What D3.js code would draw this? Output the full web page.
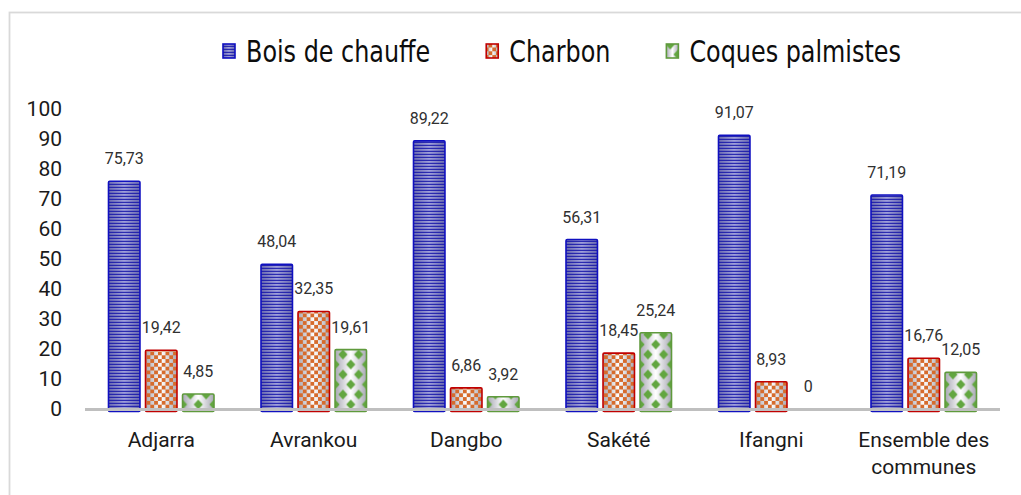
<!DOCTYPE html>
<html>
  <head>
    <meta charset="utf-8">
    <title>Combustibles par commune</title>
    <script type="text/javascript" src="https://cdn.jsdelivr.net/npm/d3@7"></script>
    <style>
      body { margin: 0; background: #fff; }
      svg { display: block; }
    </style>
  </head>
  <body>
    <script type="text/javascript">
     let communes = ["Adjarra", "Avrankou", "Dangbo", "Sakété", "Ifangni", "Ensemble des communes"];
     let series = ["Bois de chauffe", "Charbon", "Coques palmistes"];
     let boisValues = [75.73, 48.04, 89.22, 56.31, 91.07, 71.19];
     let charbonValues = [19.42, 32.35, 6.86, 18.45, 8.93, 16.76];
     let coquesValues = [4.85, 19.61, 3.92, 25.24, 0, 12.05];
     let yTicks = [0, 10, 20, 30, 40, 50, 60, 70, 80, 90, 100];

     let valuesBySeries = [boisValues, charbonValues, coquesValues];

     // canvas
     let w = 1021;
     let h = 495;
     let margin = {top: 108.5, right: 21, bottom: 86.5, left: 85};

     let svg = d3.select("body").append("svg")
		 .attr("width", w)
		 .attr("height", h);

     let font = "Roboto, 'Liberation Sans', Arial, sans-serif";
     let legendFont = "'Liberation Sans Narrow', 'DejaVu Sans Condensed', Arial, sans-serif";

     // chart border (only left and top show inside the window)
     svg.append("rect")
	.attr("x", 9.5)
	.attr("y", 12.5)
	.attr("width", 1100)
	.attr("height", 600)
	.attr("fill", "none")
	.attr("stroke", "#d9d9d9")
	.attr("stroke-width", 1.8);

     // scales
     let x0 = d3.scaleBand()
		.domain(communes)
		.range([margin.left, w - margin.right]);
     let x1 = d3.scaleBand()
		.domain(series)
		.range([23.5, x0.bandwidth() - 23.5])
		.paddingInner(0.15);
     let yScale = d3.scaleLinear()
		    .domain([0, 100])
		    .range([h - margin.bottom, margin.top]);

     let strokeColors = ["#1010c0", "#c00000", "#5f9a3c"];

     let defs = svg.append("defs");

     // grey to white to grey, across each bar
     let grad = defs.append("linearGradient")
		    .attr("id", "shade")
		    .attr("x1", "0").attr("x2", "1")
		    .attr("y1", "0").attr("y2", "0");
     grad.append("stop").attr("offset", "0").attr("stop-color", "#a8a8b4");
     grad.append("stop").attr("offset", "0.5").attr("stop-color", "#ffffff");
     grad.append("stop").attr("offset", "1").attr("stop-color", "#a8a8b4");

     // build the list of bars
     let bars = [];
     communes.forEach((c, i) => {
       series.forEach((s, j) => {
	 bars.push({commune: c, serie: s, k: j, value: valuesBySeries[j][i], id: "p" + i + "_" + j});
       });
     });

     // one pattern per bar so the motif lines up with each bar's edges
     bars.forEach((d) => {
       let bx = x0(d.commune) + x1(d.serie);
       let bw = x1.bandwidth();
       let base = yScale(0);
       if (d.k === 0) {
	 let p = defs.append("pattern").attr("id", d.id)
		     .attr("patternUnits", "userSpaceOnUse")
		     .attr("x", bx).attr("y", base)
		     .attr("width", bw).attr("height", 3);
	 p.append("rect").attr("width", bw).attr("height", 1.8).attr("fill", "#1414a8");
       } else if (d.k === 1) {
	 let p = defs.append("pattern").attr("id", d.id)
		     .attr("patternUnits", "userSpaceOnUse")
		     .attr("x", bx + 1).attr("y", base)
		     .attr("width", 7.6).attr("height", 7.6);
	 p.append("rect").attr("width", 3.8).attr("height", 3.8).attr("fill", "#d66b2c");
	 p.append("rect").attr("x", 3.8).attr("y", 3.8).attr("width", 3.8).attr("height", 3.8).attr("fill", "#d66b2c");
       } else {
	 let pw = bw / 2;
	 let ph = 20;
	 let p = defs.append("pattern").attr("id", d.id)
		     .attr("patternUnits", "userSpaceOnUse")
		     .attr("x", bx).attr("y", base - 4)
		     .attr("width", pw).attr("height", ph);
	 let dw = 4.6, dh = 5;
	 [[0, 0], [pw, 0], [0, ph], [pw, ph], [pw / 2, ph / 2]].forEach((c) => {
	   p.append("polygon")
	    .attr("points", [[c[0], c[1] - dh], [c[0] + dw, c[1]], [c[0], c[1] + dh], [c[0] - dw, c[1]]].join(" "))
	    .attr("fill", "#62a640");
	 });
       }
     });

     let barTop = (d) => yScale(d.value);
     let barHeight = (d) => d.value > 0 ? yScale(0) - yScale(d.value) + 3 : 0;
     let barX = (d) => x0(d.commune) + x1(d.serie);

     let gBars = svg.append("g");
     let shown = bars.filter((d) => d.value > 0);

     gBars.selectAll("rect.shade")
	  .data(shown)
	  .enter()
	  .append("rect")
	  .attr("class", "shade")
	  .attr("x", barX)
	  .attr("y", barTop)
	  .attr("width", x1.bandwidth())
	  .attr("height", barHeight)
	  .attr("fill", "url(#shade)");

     gBars.selectAll("rect.motif")
	  .data(shown)
	  .enter()
	  .append("rect")
	  .attr("class", "motif")
	  .attr("x", barX)
	  .attr("y", barTop)
	  .attr("width", x1.bandwidth())
	  .attr("height", barHeight)
	  .attr("rx", 1.2)
	  .attr("fill", (d) => "url(#" + d.id + ")")
	  .attr("stroke", (d) => strokeColors[d.k])
	  .attr("stroke-width", 1.6);

     // horizontal axis line
     svg.append("line")
	.attr("x1", margin.left)
	.attr("x2", w - margin.right)
	.attr("y1", yScale(0) + 1)
	.attr("y2", yScale(0) + 1)
	.attr("stroke", "#bfbfbf")
	.attr("stroke-width", 3);

     // value labels
     svg.selectAll("text.val")
	.data(bars)
	.enter()
	.append("text")
	.attr("class", "val")
	.attr("x", (d) => barX(d) + x1.bandwidth() / 2)
	.attr("y", (d) => yScale(d.value) - 17)
	.attr("text-anchor", "middle")
	.attr("font-family", font)
	.attr("font-size", 16)
	.attr("fill", "#303030")
	.text((d) => d3.format(".2f")(d.value).replace(".", ",").replace(/^0,00$/, "0"));

     // y axis
     let yAxis = d3.axisLeft()
		   .scale(yScale)
		   .tickValues(yTicks)
		   .tickSize(0)
		   .tickPadding(0);
     let gy = svg.append("g")
		 .attr("transform", "translate(62, 0)")
		 .call(yAxis);
     gy.select(".domain").remove();
     gy.selectAll("text")
       .attr("font-family", font)
       .attr("font-size", 21)
       .attr("fill", "#1a1a1a");

     // category labels, wrapped like the original
     let catLines = {"Ensemble des communes": ["Ensemble des", "communes"]};
     let gx = svg.append("g");
     communes.forEach((c) => {
       let lines = catLines[c] || [c];
       let t = gx.append("text")
		 .attr("text-anchor", "middle")
		 .attr("font-family", font)
		 .attr("font-size", 21)
		 .attr("fill", "#1a1a1a");
       lines.forEach((l, i) => {
	 t.append("tspan")
	  .attr("x", x0(c) + x0.bandwidth() / 2)
	  .attr("y", 447 + i * 27)
	  .text(l);
       });
     });

     // legend -- the original font is narrow, so squeeze the text horizontally
     let squeeze = 0.885;
     let lx = 222;
     series.forEach((s, j) => {
       let g = svg.append("g");
       g.append("rect")
	.attr("x", lx + 1)
	.attr("y", 44)
	.attr("width", 12)
	.attr("height", 14)
	.attr("fill", "url(#shade)");
       g.append("rect")
	.attr("x", lx + 1)
	.attr("y", 44)
	.attr("width", 12)
	.attr("height", 14)
	.attr("fill", "url(#" + bars[j].id + ")")
	.attr("stroke", strokeColors[j])
	.attr("stroke-width", 1.6);
       let t = g.append("text")
		.attr("transform", "translate(" + (lx + 24) + ",62) scale(" + squeeze + ",1)")
		.attr("font-family", legendFont)
		.attr("font-size", 30)
		.attr("fill", "#0d0d0d")
		.text(s);
       lx += 24 + t.node().getComputedTextLength() * squeeze + 55;
     });
    </script>
  </body>
</html>
